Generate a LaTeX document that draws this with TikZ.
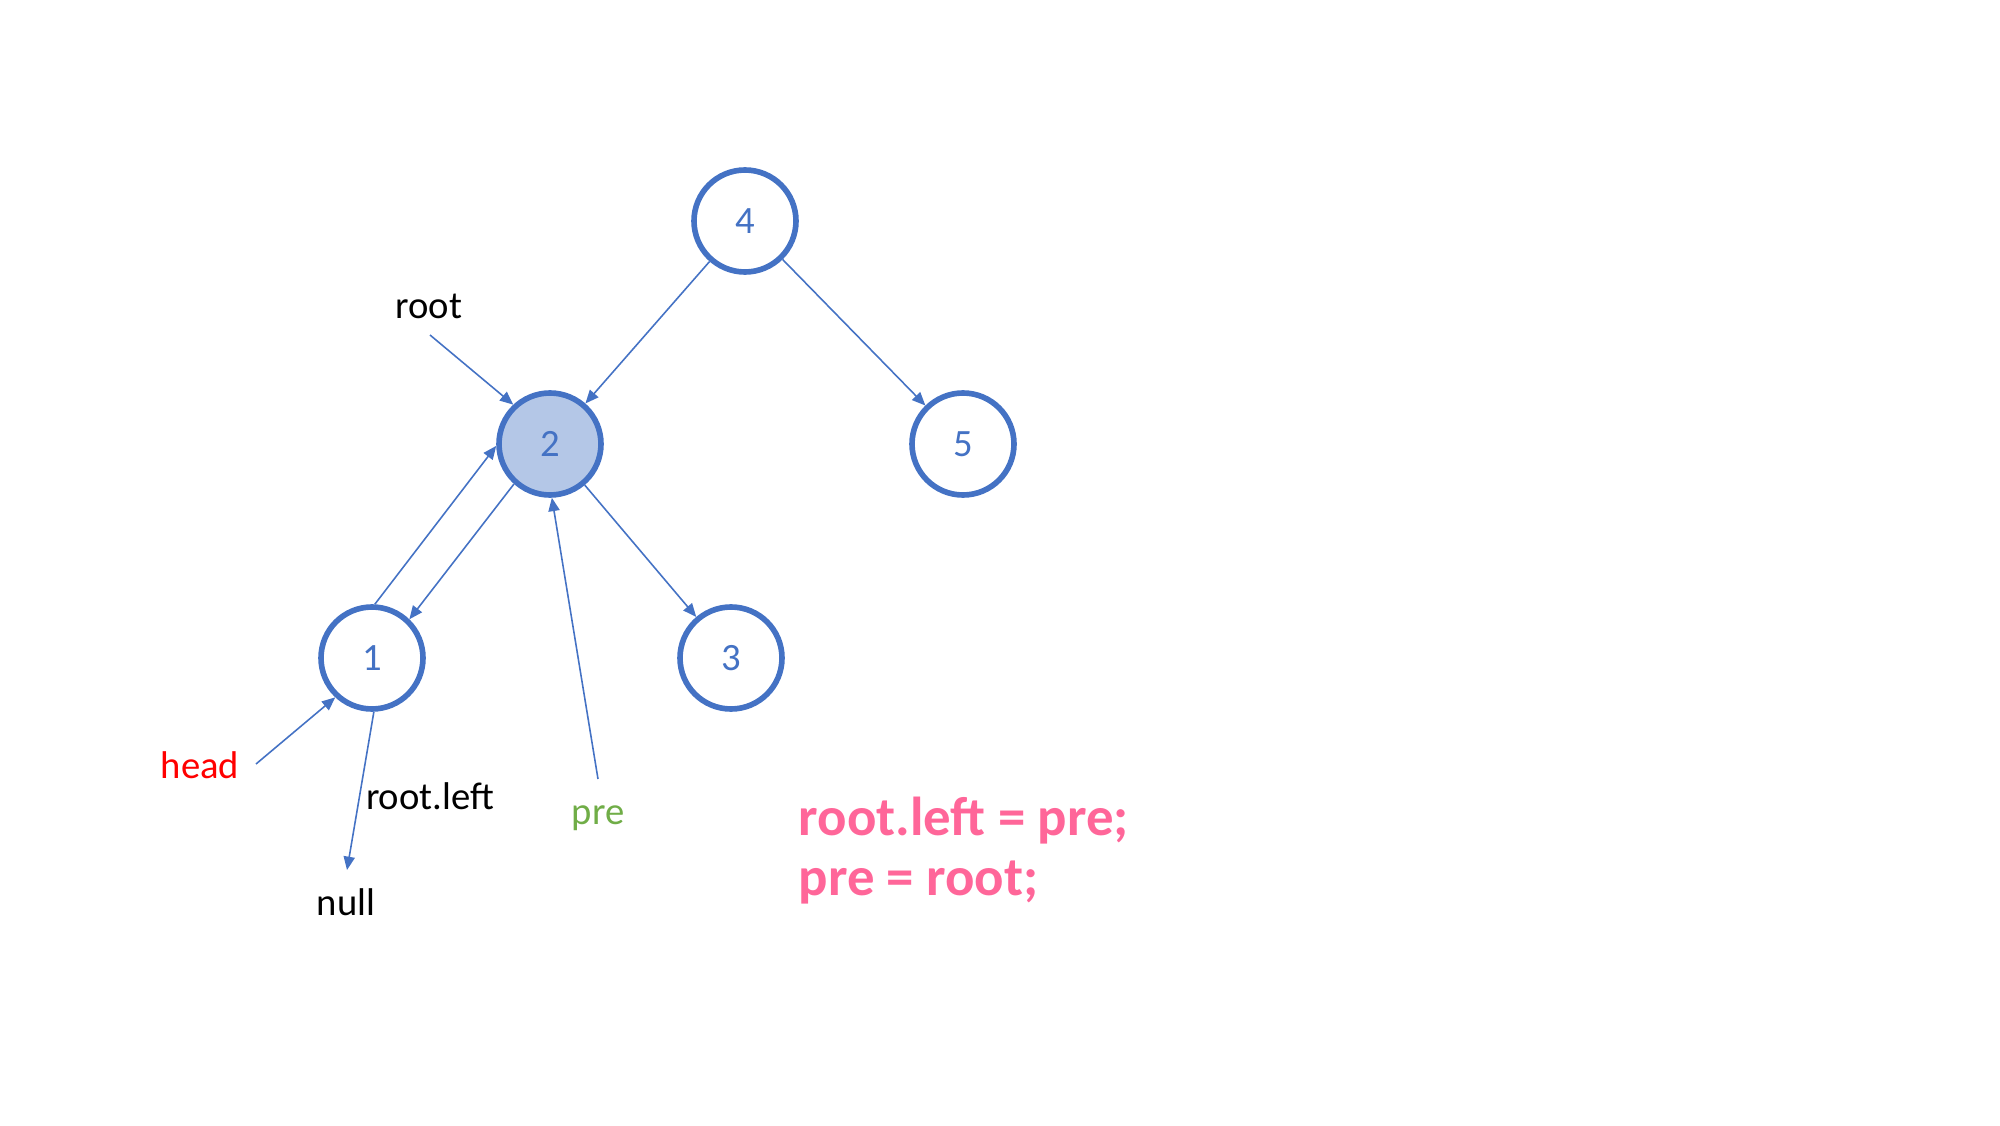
\documentclass[tikz,border=0pt]{standalone}
\usepackage{fontspec}
\setmainfont{Carlito}
\usetikzlibrary{arrows.meta}
\definecolor{nblue}{HTML}{4472C4}
\definecolor{nfill}{HTML}{B4C7E7}
\definecolor{pgreen}{HTML}{70AD47}
\definecolor{cpink}{HTML}{FF6699}
\begin{document}
\begin{tikzpicture}[font=\fontsize{11}{13}\selectfont, line join=round, >={Triangle[length=3.8pt,width=3.2pt]},
	nd/.style={circle, draw=nblue, line width=1.6pt, minimum size=1.02cm, inner sep=0pt, text=nblue},
	lnk/.style={draw=nblue, line width=0.45pt, ->}]
		\useasboundingbox (0,0) rectangle (20,11.25);
		\path (7.45,9.04) coordinate (P4) (5.50,6.81) coordinate (P2) (9.63,6.81) coordinate (P5) (3.72,4.67) coordinate (P1) (7.31,4.67) coordinate (P3);
		\foreach \x/\f in {1/white, 2/nfill, 3/white, 4/white, 5/white}{\node[nd, fill=\f] (n\x) at (P\x) {\x};}
		\foreach \a/\b in {n4/n2, n4/n5, n2/n3}{\draw[lnk] (\a)--(\b);}
		\draw[lnk] (n2.228)--(n1.46);
		\draw[lnk] (n1.87)--(n2.182);
		% pointers
		\node (root) at (4.29,8.19) {root};
		\node[text=red] (head) at (2.00,3.60) {head};
		\node (rleft) at (4.30,3.29) {root.left};
		\node (null) at (3.46,2.23) {null};
		\node[text=pgreen] (pre) at (5.98,3.07) {pre};
		\path (4.30,7.90) coordinate (r0) (2.56,3.61) coordinate (h0) (3.47,2.55) coordinate (z0) (5.98,3.46) coordinate (p0);
		\draw[lnk] (r0)--(n2.133);
		\draw[lnk] (h0)--(n1.227);
		\draw[lnk] (n1.272)--(z0);
		\draw[lnk] (p0)--(n2.272);
		\node[anchor=west, inner sep=0pt, align=left, text=cpink, font=\fontsize{15.6}{17.1}\selectfont\bfseries] (code) at (7.98,2.74) {root.left = pre;\\pre = root;};
	\end{tikzpicture}
\end{document}
